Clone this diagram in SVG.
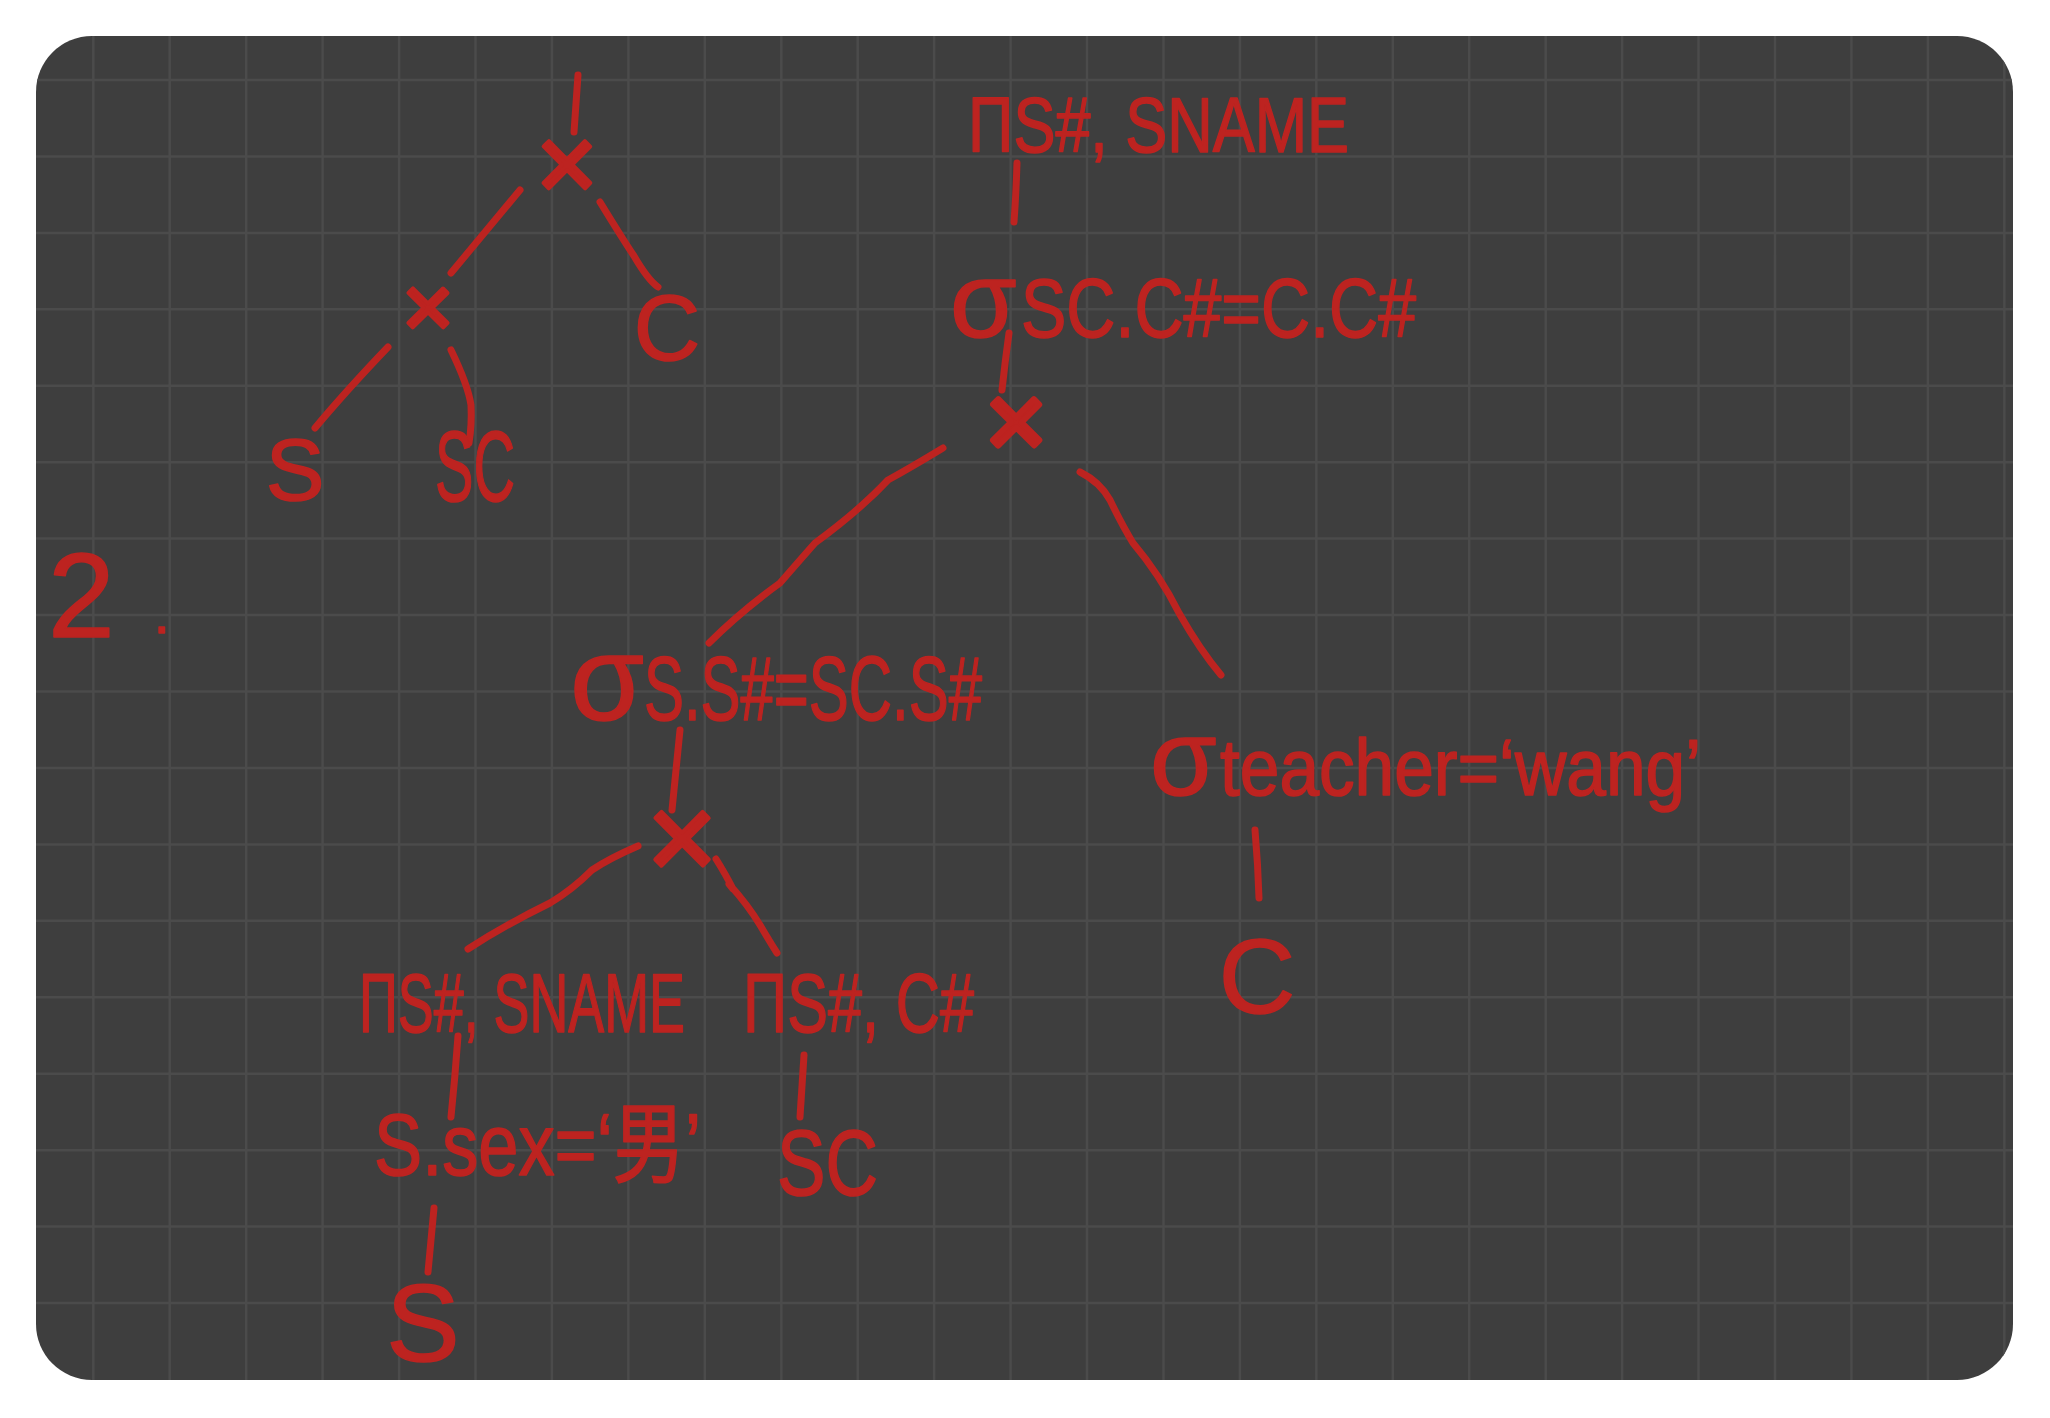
<svg xmlns="http://www.w3.org/2000/svg" width="2050" height="1418" viewBox="0 0 2050 1418">
<defs>
<clipPath id="card"><rect x="36" y="36" width="1977" height="1344" rx="56" ry="56"/></clipPath>
<style>
.ink{fill:#bd2320;stroke:#bd2320;stroke-width:1.6;stroke-linejoin:round;font-family:"Liberation Sans","Noto Sans CJK SC",sans-serif;}
.x{stroke-width:4;}
.mid{text-anchor:middle;}
.edge{fill:none;stroke:#bd2320;stroke-width:7;stroke-linecap:round;stroke-linejoin:round;}
.grid{fill:none;stroke:#4b4b4b;stroke-width:2.5;}
</style>
</defs>
<rect x="0" y="0" width="2050" height="1418" fill="#ffffff"/>
<rect x="36" y="36" width="1977" height="1344" rx="56" ry="56" fill="#3e3e3e"/>
<g clip-path="url(#card)">
<path class="grid" d="M93.3 36V1380M169.7 36V1380M246.2 36V1380M322.6 36V1380M399.1 36V1380M475.5 36V1380M551.9 36V1380M628.4 36V1380M704.8 36V1380M781.3 36V1380M857.7 36V1380M934.1 36V1380M1010.6 36V1380M1087 36V1380M1163.5 36V1380M1239.9 36V1380M1316.3 36V1380M1392.8 36V1380M1469.2 36V1380M1545.7 36V1380M1622.1 36V1380M1698.5 36V1380M1775 36V1380M1851.4 36V1380M1927.9 36V1380M2004.3 36V1380M36 80H2013M36 156.4H2013M36 232.9H2013M36 309.3H2013M36 385.8H2013M36 462.2H2013M36 538.6H2013M36 615.1H2013M36 691.5H2013M36 768H2013M36 844.4H2013M36 920.8H2013M36 997.3H2013M36 1073.7H2013M36 1150.2H2013M36 1226.6H2013M36 1303H2013"/>
</g>

<g id="connectors">
<path class="edge" d="M578 75Q576 105 574 132"/>
<path class="edge" d="M520 190Q485 232 451 273"/>
<path class="edge" d="M600 202Q622 238 634 256Q648 280 658 287"/>
<path class="edge" d="M388 347Q345 392 315 428"/>
<path class="edge" d="M451 350Q468 385 471 405Q472 425 469 443"/>
<path class="edge" d="M1017 163Q1016 195 1014 222"/>
<path class="edge" d="M1009 333Q1005 362 1002 390"/>
<path class="edge" d="M943 448Q910 468 888 480Q860 510 815 543Q800 560 780 583Q740 612 709 643"/>
<path class="edge" d="M1080 472Q1100 482 1110 500Q1122 525 1133 543Q1160 575 1179 613Q1200 650 1221 675"/>
<path class="edge" d="M680 730Q676 770 672 810"/>
<path class="edge" d="M638 846Q610 858 592 870Q572 890 550 903Q505 925 468 949"/>
<path class="edge" d="M716 859Q726 875 733 889L729 884Q748 905 760 925Q770 942 777 953"/>
<path class="edge" d="M458 1036Q455 1078 451 1117"/>
<path class="edge" d="M434 1208Q431 1240 428 1272"/>
<path class="edge" d="M804 1055Q802 1088 800 1117"/>
<path class="edge" d="M1255 830Q1258 865 1259 898"/>
</g>

<g id="label-2">
<text class="ink" font-size="120"><tspan x="48" y="637">2</tspan><tspan x="154" y="633" font-size="56">.</tspan></text>
</g>

<g id="l-root"><text class="ink x mid" x="567" y="200" font-size="105">×</text></g>
<g id="l-cross"><text class="ink x mid" x="428" y="337" font-size="88">×</text></g>
<g id="l-C"><text class="ink mid" x="667" y="360" font-size="92">C</text></g>
<g id="l-S"><text class="ink mid" x="295" y="500" font-size="88">S</text></g>
<g id="l-SC"><text class="ink" x="435" y="501" font-size="100" textLength="80" lengthAdjust="spacingAndGlyphs">SC</text></g>

<g id="proj-top"><text class="ink" x="968" y="152" font-size="78" textLength="381" lengthAdjust="spacingAndGlyphs">ΠS#, SNAME</text></g>
<g id="sel-join-c"><text class="ink" y="337" font-size="84"><tspan x="950" font-size="108">σ</tspan><tspan x="1021" textLength="395" lengthAdjust="spacingAndGlyphs">SC.C#=C.C#</tspan></text></g>
<g id="cross-1"><text class="ink x mid" x="1016" y="457" font-size="104" style="stroke-width:6">×</text></g>
<g id="sel-join-s"><text class="ink" y="720" font-size="90"><tspan x="570" font-size="120">σ</tspan><tspan x="644" textLength="338" lengthAdjust="spacingAndGlyphs">S.S#=SC.S#</tspan></text></g>
<g id="cross-2"><text class="ink x mid" x="682" y="879" font-size="120">×</text></g>
<g id="proj-s"><text class="ink" transform="translate(359 1032) scale(0.6417 1)" x="0" y="0" font-size="84" textLength="508" lengthAdjust="spacingAndGlyphs">ΠS#, SNAME</text></g>
<g id="proj-sc"><text class="ink" x="743" y="1032" font-size="84" textLength="231" lengthAdjust="spacingAndGlyphs">ΠS#, C#</text></g>
<g id="sel-sex"><text class="ink" x="374" y="1175" font-size="88" textLength="327" lengthAdjust="spacingAndGlyphs">S.sex=‘男’</text></g>
<g id="rel-S"><text class="ink mid" x="423" y="1361" font-size="110">S</text></g>
<g id="rel-SC"><text class="ink" x="777" y="1195" font-size="92" textLength="101" lengthAdjust="spacingAndGlyphs">SC</text></g>
<g id="sel-teacher"><text class="ink" y="795" font-size="80"><tspan x="1150" font-size="108">σ</tspan><tspan x="1220" textLength="481" lengthAdjust="spacingAndGlyphs">teacher=‘wang’</tspan></text></g>
<g id="rel-C"><text class="ink mid" x="1257" y="1013" font-size="106">C</text></g>
</svg>
